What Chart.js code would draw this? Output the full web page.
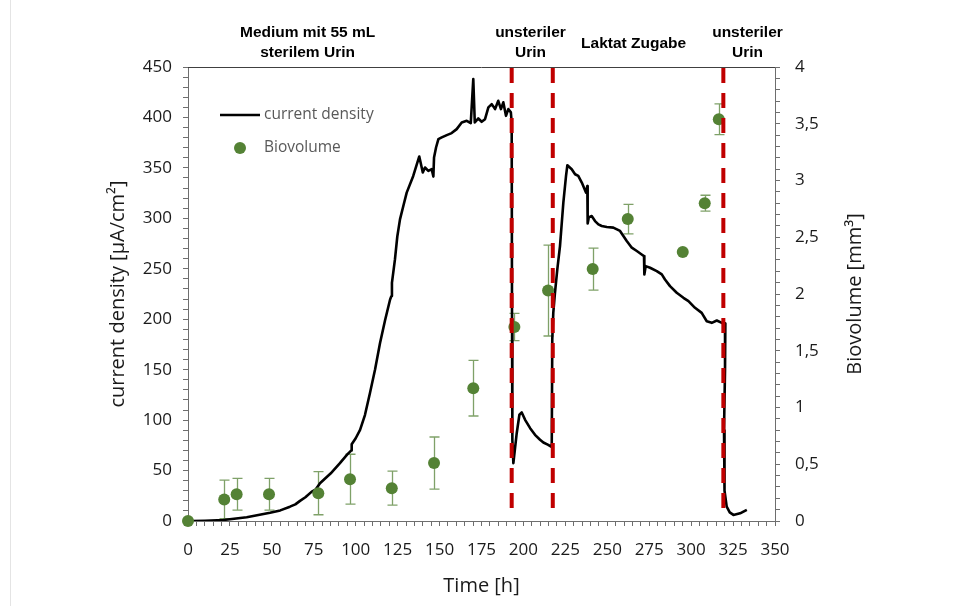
<!DOCTYPE html>
<html lang="de">
<head>
<meta charset="UTF-8">
<title>Stromdichte und Biovolumen</title>
<script src="https://cdn.jsdelivr.net/npm/chart.js"></script>
<style>
  body { margin: 0; background: #fff; }
  #wrap { position: relative; width: 969px; height: 612px; }
  #wrap canvas { position: absolute; left: 0; top: 0; }
  #edge { position: absolute; left: 10px; top: 0; height: 606px; border-left: 1px solid #e4e4e4; }
</style>
</head>
<body>
<div id="wrap">
  <div id="edge"></div>
  <canvas id="chart" width="969" height="612"></canvas>
</div>
<script>
// current density over time [h]
const timeH = [
  2, 10, 21.1, 35, 48.9, 55, 60.8, 64, 66.8, 70, 73.8, 76, 78.7, 85, 90.6, 95, 97.4, 97.6, 100, 102.6,
  105.5, 108.5, 111.5, 114.5, 117.5, 120.5, 121.3, 121.6, 123.4, 124.8, 126.4, 128.5, 130.4, 134.3, 137.9,
  140, 141.3, 143.3, 145.3, 146.3, 146.7, 147.9, 149.3, 151.3, 154.3, 157.2, 160.2, 163.2, 166.2, 168.6,
  170.1, 171, 173.1, 175.1, 177.1, 179.1, 181.1, 183.1, 185, 186.6, 188, 189.6, 191, 192.5,
  193, 193.2, 193.4, 194, 196, 197.6, 199, 201, 204, 206.9, 209.9, 211.9, 214.8, 216.3,
  216.9, 217.2, 217.8, 218.8, 220.2, 221.8, 223.8, 225.4, 226.2, 228.8, 230.8, 232.7, 234.8, 237.3,
  238.1, 238.3, 239, 240.7, 242.7, 244.7, 246.7, 249.7, 253.6, 257.6, 259.6, 261.6, 264.6, 267.6,
  270.5, 271.9, 272.1, 272.9, 275.5, 279.5, 282.5, 284.4, 287.4, 291.4, 295.4, 298.4, 302.3, 306.3,
  309.3, 312.3, 315.3, 318.3, 320.4, 320.2, 319.6, 319.9, 321.2, 323, 325.2, 329.2, 333.2
];
const currentDensity = [
  0, 0.3, 1.0, 3.7, 8.2, 10.5, 14.2, 16.5, 19.9, 23.5, 29.1, 31, 37.5, 47, 57.3, 66, 70, 76, 82, 90.4,
  105, 126.9, 150, 176.5, 199, 219.5, 223, 236, 259.3, 282, 299, 313, 325.5, 342, 361.3,
  345.4, 350.4, 347, 348.7, 341.4, 360.3, 370.2, 378.5, 380.2, 382.5, 384.5, 388.4, 395, 396.7, 394.4,
  438, 395, 399, 395.7, 398.3, 410, 413.2, 408.3, 416.5, 408.3, 415, 401.6, 408.3, 405,
  395, 200, 80, 57.3, 87, 105.3, 107.6, 100.3, 92, 85.4, 80.5, 77.8, 75.5, 73.8,
  76, 180, 206.3, 226.2, 249.3, 272.5, 315.6, 342, 352.6, 348.7, 343.7, 342, 335.4, 325.5,
  332, 295, 301, 302.3, 297.3, 294, 292.4, 291.4, 290.8, 287.5, 282.5, 277.5, 270.9, 267.6,
  264.2, 262.6, 244.4, 252.6, 251, 247.7, 244.4, 239.4, 232.8, 226.2, 221.2, 217.9, 211.3, 206.3,
  198, 196.4, 198.7, 196.4, 196, 150, 90, 30, 14.2, 8.5, 6, 7.6, 11
];

// biovolume samples with standard deviation
const bioTime   = [0, 21.6, 29, 48.3, 77.7, 96.6, 121.5, 146.7, 170.1, 194.6, 214.7, 241.3, 262.2, 295, 308.1, 316.5];
const bioVolume = [0, 0.19, 0.236, 0.236, 0.245, 0.368, 0.289, 0.51, 1.17, 1.71, 2.03, 2.22, 2.66, 2.37, 2.80, 3.54];
const bioError  = [0, 0.17, 0.14, 0.14, 0.19, 0.22, 0.15, 0.23, 0.245, 0.12, 0.40, 0.185, 0.13, 0, 0.07, 0.135];

// urine additions / lactate feed
const markerTimes = [193, 217.5, 319.2];
const phaseTimes  = [71.3, 204.2, 265.7, 333.6];
const phaseTexts  = [["Medium mit 55 mL", "sterilem Urin"], ["unsteriler", "Urin"], ["Laktat Zugabe"], ["unsteriler", "Urin"]];

const GREEN = '#548235';
const AXIS = '#6e6e6e';
const FONT = "'Open Sans', sans-serif";
Chart.defaults.font.family = FONT;
Chart.defaults.color = '#1a1a1a';

const errorBars = {
  id: 'errorBars',
  beforeDatasetsDraw(chart) {
    const { ctx, scales: { x, y2 } } = chart;
    ctx.save();
    ctx.strokeStyle = 'rgba(84,130,53,0.75)';
    ctx.lineWidth = 1.3;
    bioTime.forEach((t, i) => {
      const e = bioError[i];
      if (!e) return;
      const px = Math.round(x.getPixelForValue(t)) + 0.5;
      const top = y2.getPixelForValue(bioVolume[i] + e);
      const bot = y2.getPixelForValue(bioVolume[i] - e);
      ctx.beginPath();
      ctx.moveTo(px, top); ctx.lineTo(px, bot);
      ctx.moveTo(px - 5, top); ctx.lineTo(px + 5, top);
      ctx.moveTo(px - 5, bot); ctx.lineTo(px + 5, bot);
      ctx.stroke();
    });
    ctx.restore();
  }
};

const overlay = {
  id: 'overlay',
  afterDatasetsDraw(chart) {
    const { ctx, chartArea: a, scales: { x } } = chart;
    ctx.save();
    // top frame
    ctx.strokeStyle = '#404040';
    ctx.lineWidth = 1;
    ctx.beginPath();
    ctx.moveTo(a.left, a.top + 0.5);
    ctx.lineTo(a.right, a.top + 0.5);
    ctx.stroke();
    // dashed event markers
    ctx.strokeStyle = '#c00000';
    ctx.lineWidth = 4;
    ctx.setLineDash([15, 10]);
    markerTimes.forEach(t => {
      const px = x.getPixelForValue(t);
      ctx.beginPath();
      ctx.moveTo(px, a.top + 1);
      ctx.lineTo(px, a.bottom - 3);
      ctx.stroke();
    });
    ctx.restore();
  },
  afterDraw(chart) {
    const { ctx, chartArea: a, scales: { x } } = chart;
    const line = chart.data.datasets[1];
    const dots = chart.data.datasets[0];
    ctx.save();

    // phase labels above the plot
    ctx.fillStyle = '#000';
    ctx.font = "bold 15.5px 'Liberation Sans', sans-serif";
    ctx.textAlign = 'center';
    ctx.textBaseline = 'middle';
    phaseTexts.forEach((rows, i) => {
      const px = x.getPixelForValue(phaseTimes[i]);
      if (rows.length === 1) {
        ctx.fillText(rows[0], px, 44);
      } else {
        ctx.fillText(rows[0], px, 33);
        ctx.fillText(rows[1], px, 53);
      }
    });

    // legend
    const lx = a.left + 32, ly = a.top + 48;
    ctx.strokeStyle = line.borderColor;
    ctx.lineWidth = line.borderWidth;
    ctx.beginPath();
    ctx.moveTo(lx, ly);
    ctx.lineTo(lx + 40, ly);
    ctx.stroke();
    ctx.fillStyle = dots.backgroundColor;
    ctx.beginPath();
    ctx.arc(lx + 20, ly + 33, 6, 0, Math.PI * 2);
    ctx.fill();
    ctx.fillStyle = '#595959';
    ctx.font = '15.5px ' + FONT;
    ctx.textAlign = 'left';
    ctx.fillText(line.label, lx + 44, ly);
    ctx.fillText(dots.label, lx + 44, ly + 33);

    // axis titles
    ctx.fillStyle = '#1a1a1a';
    ctx.font = '20px ' + FONT;
    ctx.textAlign = 'center';
    const midY = (a.top + a.bottom) / 2;
    ctx.fillText('Time [h]', (a.left + a.right) / 2, a.bottom + 65);
    ctx.save();
    ctx.translate(a.left - 70, midY);
    ctx.rotate(-Math.PI / 2);
    ctx.fillText('current density [µA/cm²]', 0, 0);
    ctx.restore();
    ctx.save();
    ctx.translate(a.right + 80, midY);
    ctx.rotate(-Math.PI / 2);
    ctx.fillText('Biovolume [mm³]', 0, 0);
    ctx.restore();

    ctx.restore();
  }
};

const tickGrid = { drawOnChartArea: false, tickLength: 5, tickColor: AXIS };
const tickFont = { size: 17 };

new Chart(document.getElementById('chart'), {
  type: 'scatter',
  data: {
    datasets: [
      {
        label: 'Biovolume',
        data: bioTime.map((t, i) => ({ x: t, y: bioVolume[i] })),
        yAxisID: 'y2',
        backgroundColor: GREEN,
        borderWidth: 0,
        pointRadius: 6,
        clip: false
      },
      {
        label: 'current density',
        data: timeH.map((t, i) => ({ x: t, y: currentDensity[i] })),
        yAxisID: 'y',
        showLine: true,
        borderColor: '#000',
        borderWidth: 2.6,
        borderJoinStyle: 'round',
        pointRadius: 0,
        tension: 0
      }
    ]
  },
  options: {
    responsive: false,
    devicePixelRatio: 1,
    animation: false,
    layout: { padding: { top: 67, left: 0, right: 0, bottom: 0 } },
    plugins: { legend: { display: false }, tooltip: { enabled: false } },
    scales: {
      x: {
        type: 'linear', position: 'bottom', min: 0, max: 350,
        grid: tickGrid,
        border: { color: AXIS },
        ticks: {
          stepSize: 5, autoSkip: false, maxRotation: 0, padding: 14, font: tickFont,
          callback: v => (v % 25 === 0 ? String(v) : '')
        },
        afterFit: s => { s.height = 91; }
      },
      y: {
        position: 'left', min: 0, max: 450,
        grid: tickGrid,
        border: { color: AXIS },
        ticks: {
          stepSize: 10, autoSkip: false, padding: 11, font: tickFont,
          callback: v => (v % 50 === 0 ? String(v) : '')
        },
        afterFit: s => { s.width = 188; }
      },
      y2: {
        position: 'right', min: 0, max: 4,
        grid: tickGrid,
        border: { color: AXIS },
        ticks: {
          stepSize: 0.1, autoSkip: false, padding: 15, font: tickFont,
          callback: v => {
            const tenth = Math.round(v * 10);
            return tenth % 5 === 0 ? String(tenth / 10).replace('.', ',') : '';
          }
        },
        afterFit: s => { s.width = 194; }
      }
    }
  },
  plugins: [errorBars, overlay]
});
</script>
</body>
</html>
